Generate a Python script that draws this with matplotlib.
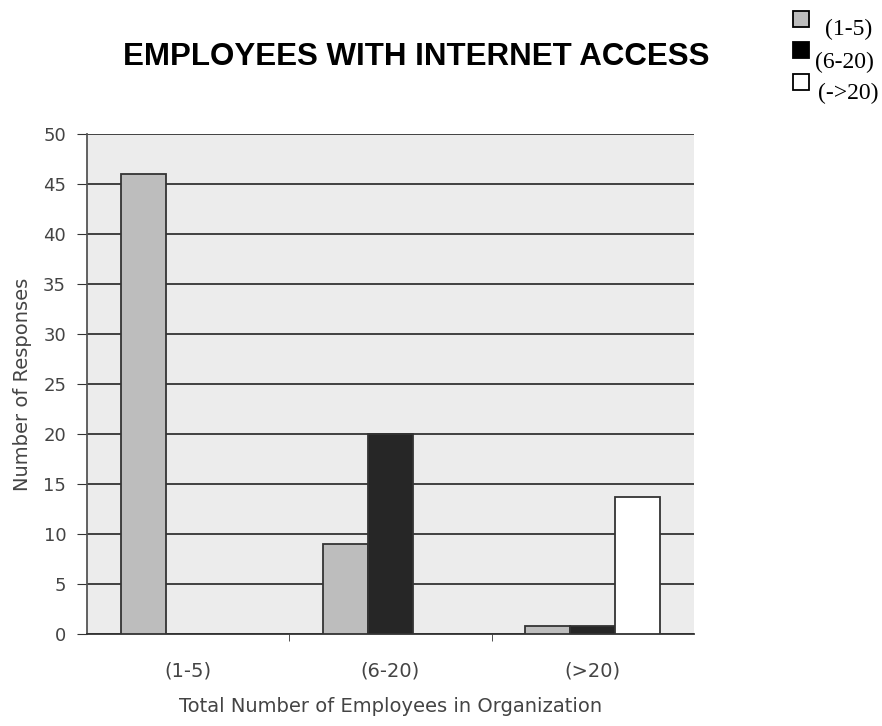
import matplotlib.pyplot as plt
from matplotlib.patches import Rectangle
import numpy as np

categories = ["(1-5)", "(6-20)", "(>20)"]
series_labels = ["(1-5)", "(6-20)", "(->20)"]
small = [46, 9, 0.8]
medium = [0, 20, 0.8]
large = [0, 0, 13.7]

colors = ["#bdbdbd", "#262626", "#ffffff"]

fig = plt.figure(figsize=(8.82, 7.26), dpi=100)
ax = fig.add_axes([0.0986, 0.1267, 0.688, 0.6887])
ax.set_facecolor("#ececec")

x = np.arange(len(categories))
w = 0.222
for i, (vals, col) in enumerate(zip([small, medium, large], colors)):
    ax.bar(x + (i - 1) * w, vals, w, color=col, edgecolor="#333333", linewidth=1.3,
           zorder=3)

ax.set_xlim(-0.5, 2.5)
ax.set_ylim(0, 50)
ax.set_yticks(range(0, 51, 5))
ax.yaxis.grid(True, color="#333333", linewidth=1.3, zorder=1)
ax.set_axisbelow(True)

ax.set_xticks(x)
ax.set_xticklabels(categories)
ax.set_xticks([0.5, 1.5], minor=True)
ax.tick_params(axis="x", which="major", length=0, pad=20, labelsize=14)
ax.tick_params(axis="x", which="minor", length=5, direction="out", color="#333333")
ax.tick_params(axis="y", length=7, direction="out", color="#333333", pad=8, labelsize=13)
ax.tick_params(labelcolor="#444444")

for s in ["top", "right"]:
    ax.spines[s].set_visible(False)
ax.spines["left"].set_color("#555555")
ax.spines["bottom"].set_color("#333333")
ax.spines["left"].set_linewidth(1.3)
ax.spines["bottom"].set_linewidth(1.3)

ax.set_ylabel("Number of Responses", fontsize=14, color="#444444", labelpad=8)
ax.set_xlabel("Total Number of Employees in Organization", fontsize=14,
              color="#444444", labelpad=12)

fig.text(0.472, 0.921, "EMPLOYEES WITH INTERNET ACCESS", ha="center", va="center",
         fontsize=22.5, fontweight="bold", family="Liberation Sans")

# legend drawn by hand: squares with labels set a little lower, as in the scan
W, H = 882, 726
sq_tops = [11, 42, 74]
lab_pos = [(825, 29), (815, 62), (818, 93)]
for col, top, (lx, ly), lab in zip(colors, sq_tops, lab_pos, series_labels):
    fig.add_artist(Rectangle((793 / W, 1 - (top + 16) / H), 16 / W, 16 / H,
                             transform=fig.transFigure, facecolor=col if col != "#262626" else "black",
                             edgecolor="black", linewidth=1.3))
    fig.text(lx / W, 1 - ly / H, lab, ha="left", va="center",
             fontsize=17, family="Liberation Serif")

fig.savefig("out.png", dpi=100)
